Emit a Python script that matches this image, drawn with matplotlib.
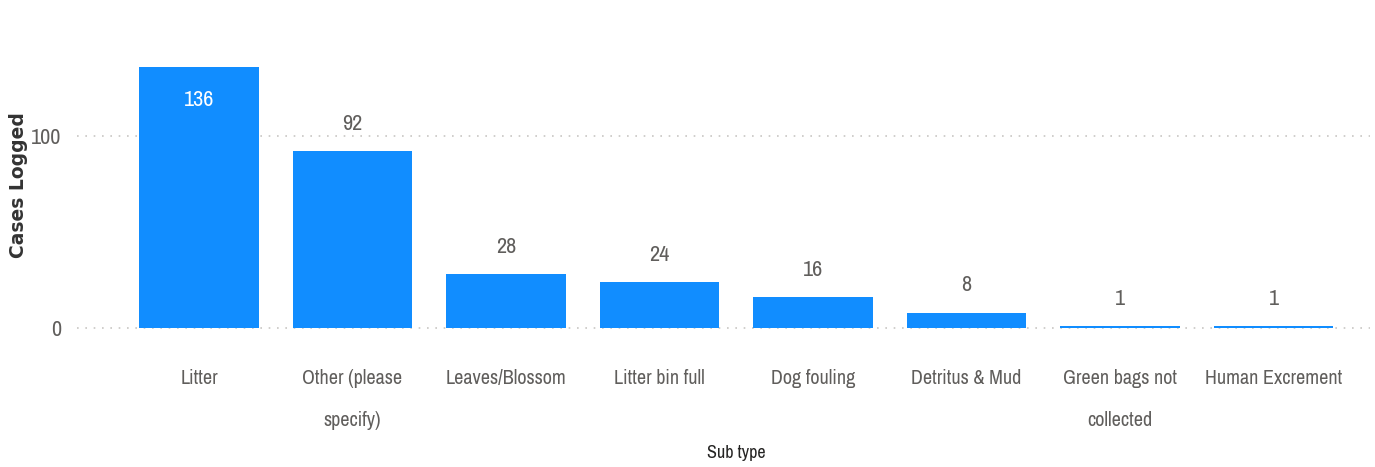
import matplotlib.pyplot as plt
from matplotlib import font_manager

# ── data ──────────────────────────────────────────────────────────────────────
sub_types = ['Litter', 'Other (please\nspecify)', 'Leaves/Blossom', 'Litter bin full',
             'Dog fouling', 'Detritus & Mud', 'Green bags not\ncollected', 'Human Excrement']
cases = [136, 92, 28, 24, 16, 8, 1, 1]
y_ticks = [0, 100]

# look for any narrow / condensed face; fall back to DejaVu Sans
narrow = 'DejaVu Sans'
for f in font_manager.fontManager.ttflist:
    if 'Narrow' in f.name or 'Condensed' in f.name:
        narrow = f.name
        break

bar_color = '#118DFF'
text_color = '#605E5C'

fig = plt.figure(figsize=(13.75, 4.67), dpi=100)
ax = fig.add_axes([0.056, 0.281, 0.940, 0.633])

x = range(len(sub_types))
ax.bar(x, cases, width=0.78, color=bar_color, zorder=2)

# value labels: inside the tallest bar, above the rest
for i, v in enumerate(cases):
    if v == max(cases):
        ax.text(i, v - 12, str(v), ha='center', va='top', color='white',
                fontsize=16, family=narrow)
    else:
        ax.text(i, v + 9, str(v), ha='center', va='bottom', color=text_color,
                fontsize=16, family=narrow)

ax.set_xlim(-0.795, len(sub_types) - 0.375)
ax.set_ylim(-4, 150)
ax.set_yticks(y_ticks)
ax.set_yticklabels([str(t) for t in y_ticks], fontsize=16, color=text_color, family=narrow)
ax.set_xticks(list(x))
ax.set_xticklabels(sub_types, fontsize=14.5, color=text_color, linespacing=2.5, family=narrow)
ax.tick_params(axis='x', length=0, pad=24)
ax.tick_params(axis='y', length=0, pad=11)

for t in y_ticks:
    ax.axhline(t, color='#C8C6C4', linestyle=(0, (1, 4)), linewidth=1.2, zorder=1)

for s in ax.spines.values():
    s.set_visible(False)

ax.set_ylabel('Cases Logged', fontsize=13.5, fontweight='bold', color='#333333',
              family='DejaVu Sans')
ax.yaxis.set_label_coords(-0.038, 0.51)
ax.set_xlabel('Sub type', fontsize=13, fontweight='bold', color='#252423', family=narrow)
ax.xaxis.set_label_coords(0.51, -0.37)
ax.xaxis.label.set_va('top')

fig.savefig('out.png', dpi=100)
